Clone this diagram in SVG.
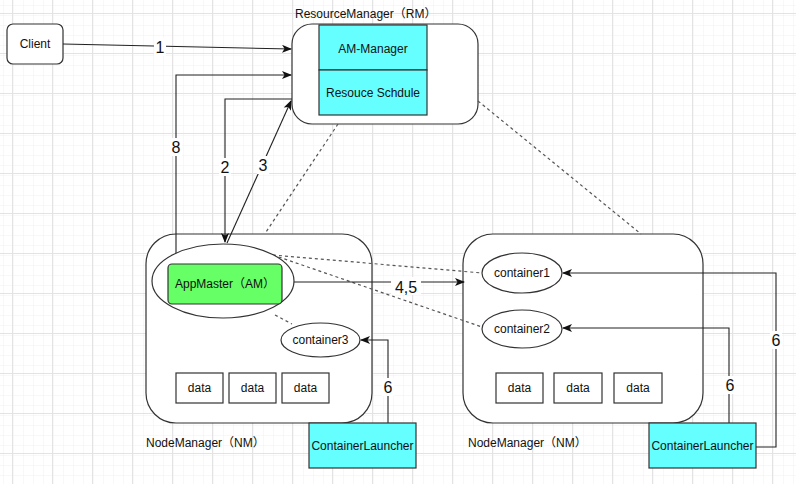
<svg xmlns="http://www.w3.org/2000/svg" width="796" height="484" viewBox="0 0 796 484">
<defs>
<pattern id="minor" x="2" y="3" width="10" height="10" patternUnits="userSpaceOnUse">
<path d="M10 0 V10 M0 10 H10" fill="none" stroke="#f1f1f1" stroke-width="1"/>
</pattern>
<pattern id="major" x="12" y="13" width="40" height="40" patternUnits="userSpaceOnUse">
<rect width="40" height="40" fill="url(#minor)"/>
<path d="M0.5 0 V40 M0 0.5 H40" fill="none" stroke="#e3e3e3" stroke-width="1"/>
</pattern>
<marker id="arr" markerWidth="10" markerHeight="8" refX="9" refY="4" orient="auto" markerUnits="userSpaceOnUse">
<path d="M0,0 L10,4 L0,8 L2.5,4 z" fill="#111"/>
</marker>
<style>
.box{fill:#fff;stroke:#333;stroke-width:1.2}
.cyan{fill:#66ffff;stroke:#333;stroke-width:1.2}
.green{fill:#66ff66;stroke:#333;stroke-width:1.2}
.t{font-family:"Liberation Sans","Noto Sans CJK SC",Arial,sans-serif;font-size:12px;fill:#111;text-anchor:middle}
.tl{font-family:"Liberation Sans","Noto Sans CJK SC",Arial,sans-serif;font-size:12px;fill:#111}
.lbl{font-family:"Liberation Sans",Arial,sans-serif;font-size:16px;fill:#111;text-anchor:middle}
.ln{fill:none;stroke:#222;stroke-width:1.1}
.dash{fill:none;stroke:#555;stroke-width:1.2;stroke-dasharray:3 3}
.bg{fill:#fff}
</style>
</defs>
<rect width="796" height="484" fill="#fff"/>
<rect width="796" height="484" fill="url(#major)"/>

<g id="client">
<rect class="box" x="7" y="24" width="56" height="40" rx="6"/>
<text class="t" x="35" y="48">Client</text>
</g>

<g id="resourcemanager">
<text class="tl" x="295" y="18">ResourceManager（RM）</text>
<rect class="box" x="292" y="24" width="186" height="100" rx="20"/>
</g>
<g id="am-manager">
<rect class="cyan" x="319" y="25" width="108" height="45"/>
<text class="t" x="373" y="53">AM-Manager</text>
</g>
<g id="resource-schedule">
<rect class="cyan" x="319" y="70" width="108" height="45"/>
<text class="t" x="373" y="97">Resouce Schdule</text>
</g>

<g id="nodemanager1">
<rect class="box" x="146" y="234" width="226" height="189" rx="30"/>
<text class="tl" x="146" y="447">NodeManager（NM）</text>
</g>
<g id="nodemanager2">
<rect class="box" x="463" y="234" width="240" height="189" rx="30"/>
<text class="tl" x="468" y="447">NodeManager（NM）</text>
</g>

<g id="connectors">
<path class="dash" d="M338 124 L266 232"/>
<path class="dash" d="M478 101 L641 234"/>
<path class="dash" d="M273 255 L482 273"/>
<path class="dash" d="M273 255 L482 327"/>
<path class="dash" d="M275 315 L292 324"/>

<path class="ln" d="M63 44 L291 49" marker-end="url(#arr)"/>
<rect class="bg" x="154" y="38" width="12" height="18"/>
<text class="lbl" x="160" y="53">1</text>

<path class="ln" d="M176 254 V75 H291" marker-end="url(#arr)"/>
<rect class="bg" x="170" y="138" width="12" height="18"/>
<text class="lbl" x="176" y="153">8</text>

<path class="ln" d="M292 99 H225 V242" marker-end="url(#arr)"/>
<rect class="bg" x="219" y="158" width="12" height="18"/>
<text class="lbl" x="225" y="173">2</text>

<path class="ln" d="M227 243 L291 101" marker-end="url(#arr)"/>
<rect class="bg" x="257" y="156" width="12" height="18"/>
<text class="lbl" x="263" y="171">3</text>

<path class="ln" d="M294 282 H464" marker-end="url(#arr)"/>
<rect class="bg" x="391" y="277" width="30" height="18"/>
<text class="lbl" x="406" y="293">4,5</text>

<path class="ln" d="M388 423 V340 H361" marker-end="url(#arr)"/>
<rect class="bg" x="382" y="378" width="12" height="18"/>
<text class="lbl" x="388" y="393">6</text>

<path class="ln" d="M729 423 V328 H563" marker-end="url(#arr)"/>
<rect class="bg" x="723" y="376" width="12" height="18"/>
<text class="lbl" x="730" y="391">6</text>

<path class="ln" d="M756 447 H776 V273 H563" marker-end="url(#arr)"/>
<rect class="bg" x="770" y="331" width="12" height="18"/>
<text class="lbl" x="776" y="346">6</text>
</g>

<g id="appmaster">
<ellipse class="box" cx="223" cy="281" rx="71" ry="37"/>
<rect class="green" x="168" y="264" width="114" height="40" rx="4"/>
<text class="t" x="225" y="288">AppMaster（AM）</text>
</g>
<g id="container3">
<ellipse class="box" cx="320.5" cy="340" rx="39.5" ry="17"/>
<text class="t" x="320.5" y="344">container3</text>
</g>
<g id="container1">
<ellipse class="box" cx="522" cy="273" rx="40" ry="20"/>
<text class="t" x="522" y="277">container1</text>
</g>
<g id="container2">
<ellipse class="box" cx="522" cy="329" rx="40" ry="19"/>
<text class="t" x="522" y="333">container2</text>
</g>

<g id="data1"><rect class="box" x="176" y="373" width="47" height="30"/><text class="t" x="199.5" y="392">data</text></g>
<g id="data2"><rect class="box" x="229" y="373" width="47" height="30"/><text class="t" x="252.5" y="392">data</text></g>
<g id="data3"><rect class="box" x="282" y="373" width="47" height="30"/><text class="t" x="305.5" y="392">data</text></g>
<g id="data4"><rect class="box" x="496" y="373" width="47" height="30"/><text class="t" x="519.5" y="392">data</text></g>
<g id="data5"><rect class="box" x="554" y="373" width="48" height="30"/><text class="t" x="578" y="392">data</text></g>
<g id="data6"><rect class="box" x="614" y="373" width="48" height="30"/><text class="t" x="638" y="392">data</text></g>

<g id="containerlauncher1">
<rect class="cyan" x="309" y="423" width="107" height="45"/>
<text class="t" x="362.5" y="450">ContainerLauncher</text>
</g>
<g id="containerlauncher2">
<rect class="cyan" x="649" y="423" width="107" height="45"/>
<text class="t" x="702.5" y="450">ContainerLauncher</text>
</g>
</svg>
